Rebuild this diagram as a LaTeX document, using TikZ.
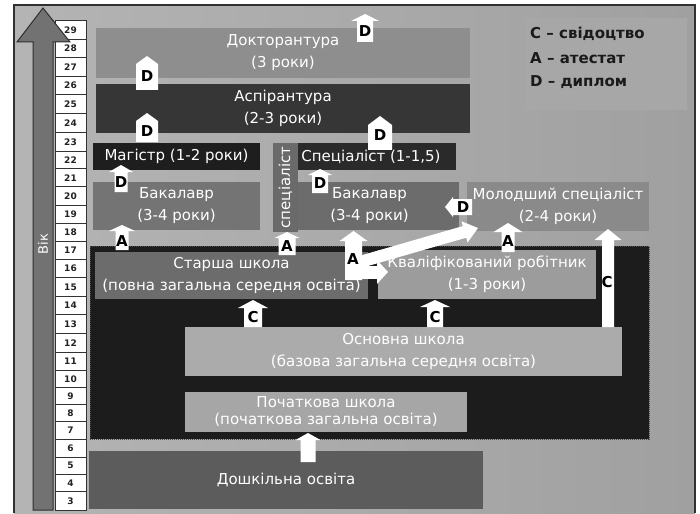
\documentclass[tikz,border=0pt]{standalone}
\usepackage{fontspec}
\setmainfont{DejaVu Sans}
\definecolor{bgA}{HTML}{B4B4B4}
\definecolor{bgB}{HTML}{A0A0A0}
\definecolor{framec}{HTML}{303030}
\definecolor{legbg}{HTML}{A7A7A7}
\definecolor{legtextc}{HTML}{1A1A1A}
\definecolor{cDokt}{HTML}{8E8E8E}
\definecolor{cAsp}{HTML}{363636}
\definecolor{cMag}{HTML}{1E1E1E}
\definecolor{cSpec}{HTML}{2A2A2A}
\definecolor{cSpecv}{HTML}{6A6A6A}
\definecolor{cBakA}{HTML}{747474}
\definecolor{cBakB}{HTML}{6C6C6C}
\definecolor{cMol}{HTML}{8A8A8A}
\definecolor{cBlack}{HTML}{1C1C1C}
\definecolor{cBlackEdge}{HTML}{4A4A4A}
\definecolor{cStar}{HTML}{6C6C6C}
\definecolor{cKval}{HTML}{9C9C9C}
\definecolor{cOsn}{HTML}{ABABAB}
\definecolor{cPoch}{HTML}{A6A6A6}
\definecolor{cDosh}{HTML}{5C5C5C}
\definecolor{agedraw}{HTML}{333333}
\definecolor{agetext}{HTML}{222222}
\definecolor{arrowc}{HTML}{727272}
\definecolor{arrowedge}{HTML}{2E2E2E}
% block arrow pointing up: x, ybottom, ytip, shaft half, head half, head length
\newcommand\blkup[6]{\fill[white] ({#1-#4},#2) -- ({#1-#4},{#3+#6}) -- ({#1-#5},{#3+#6}) -- (#1,#3) -- ({#1+#5},{#3+#6}) -- ({#1+#4},{#3+#6}) -- ({#1+#4},#2) -- cycle;}
\begin{document}
\begin{tikzpicture}[x=1pt,y=-1pt,
  lvl/.style={inner sep=0pt, outer sep=0pt, text=white, align=center, font=\fontsize{15}{22}\selectfont},
  letter/.style={inner sep=0pt, text=black, font=\bfseries\fontsize{15}{15}\selectfont},
  agebox/.style={draw=agedraw, line width=0.8pt, fill=white},
  agenum/.style={inner sep=0pt, font=\bfseries\fontsize{9}{9}\selectfont, text=agetext},
  legtext/.style={anchor=west, inner sep=0pt, font=\bfseries\fontsize{15}{15}\selectfont, text=legtextc}
]
\useasboundingbox (0,0) rectangle (700,513);
\fill[white] (0,0) rectangle (700,513);
\shade[left color=bgA, right color=bgB] (14,5) rectangle (695,513);
\draw[framec, line width=1.2pt] (14,513) -- (14,5) -- (695,5) -- (695,513);

% legend
\fill[legbg] (525,18) rectangle (687,110);
\node[legtext] (leg1) at (530,34) {C – свідоцтво};
\node[legtext] (leg2) at (530,58) {A – атестат};
\node[legtext] (leg3) at (530,82) {D – диплом};

% levels
\node[lvl, fill=cDokt, minimum width=374pt, minimum height=50pt] (dokt) at (283,53) {Докторантура\\(3 роки)};
\node[lvl, fill=cAsp, minimum width=374pt, minimum height=49pt] (asp) at (283,108.5) {Аспірантура\\(2-3 роки)};
\node[lvl, fill=cMag, minimum width=167pt, minimum height=27pt] (mag) at (176.5,156.5) {Магістр (1-2 роки)};
\node[lvl, fill=cSpec, minimum width=170pt, minimum height=27pt] (spec) at (371,156.5) {Спеціаліст (1-1,5)};
\node[lvl, fill=cBakA, minimum width=167pt, minimum height=48pt] (bak1) at (176.5,206) {Бакалавр\\(3-4 роки)};
\node[lvl, fill=cBakB, minimum width=179pt, minimum height=48pt] (bak2) at (369.5,206) {Бакалавр\\(3-4 роки)};
\node[lvl, fill=cSpecv, rotate=90, minimum width=89pt, minimum height=25pt] (specv) at (285.5,187.5) {спеціаліст};
\node[lvl, fill=cMol, minimum width=182pt, minimum height=49pt] (mol) at (558,206.5) {Молодший спеціаліст\\(2-4 роки)};

\node[fill=cBlack, draw=cBlackEdge, densely dotted, line width=1pt, minimum width=559pt, minimum height=193pt, inner sep=0pt] (school) at (369.5,342.5) {};
\node[lvl, fill=cStar, minimum width=273pt, minimum height=47pt] (star) at (231.5,275.5) {Старша школа\\(повна загальна середня освіта)};
\node[lvl, fill=cKval, minimum width=218pt, minimum height=49pt] (kval) at (487,274.5) {Кваліфікований робітник\\(1-3 роки)};
\node[lvl, fill=cOsn, minimum width=437pt, minimum height=49pt] (osn) at (403.5,351.5) {Основна школа\\(базова загальна середня освіта)};
\node[lvl, fill=cPoch, minimum width=282pt, minimum height=40pt, font=\fontsize{15}{17}\selectfont] (poch) at (326,412) {Початкова школа\\(початкова загальна освіта)};
\node[lvl, fill=cDosh, minimum width=394pt, minimum height=58pt] (dosh) at (286,480) {Дошкільна освіта};

% block arrows with letters
\blkup{365}{42}{14}{8}{14}{7}
\node[letter] (dTop) at (365,31) {D};
\blkup{147}{90}{56}{11}{11}{8}
\node[letter] (dAsp) at (147,76) {D};
\blkup{147}{142}{113}{11}{11}{8}
\node[letter] (dMag) at (147,131) {D};
\blkup{380}{150}{116}{12}{12}{9}
\node[letter] (dSpec) at (380,135) {D};
\blkup{121}{192}{165}{6.5}{12}{7}
\node[letter] (dBak1) at (121,182) {D};
\blkup{122}{250}{225}{6.5}{13}{6}
\node[letter] (aBak1) at (122,241) {A};
\blkup{287}{255}{232}{8.5}{12.5}{6}
\node[letter] (aSpecv) at (287,246) {A};
\blkup{320}{193}{169}{8}{12}{6}
\node[letter] (dBak2) at (320,183) {D};
\blkup{508}{252}{223}{6.5}{14.5}{9}
\node[letter] (aMol) at (508,241) {A};
\blkup{608}{327}{229}{6}{13.5}{11}
\node[letter] (cMol) at (607,282) {C};
\blkup{253}{327}{300}{9}{15}{8}
\node[letter] (cStar) at (253,317) {C};
\blkup{435}{327}{300}{8}{15}{7}
\node[letter] (cKval) at (435,317) {C};
\blkup{308}{462}{433}{7.5}{12.5}{7}

% left-pointing D arrow (Molodshyi -> Bakalavr)
\fill[white] (472,199) -- (453,199) -- (453,197) -- (445,207) -- (453,217) -- (453,215) -- (472,215) -- cycle;
\node[letter] (dMol) at (463,207) {D};

% compound A arrow (from Starsha)
\blkup{353.5}{280}{231}{8.5}{14}{10}
\fill[white] (353,266) rectangle (378,279);
\fill[white] (377,260) -- (388,272) -- (377,284) -- cycle;
\fill[white] (358.3,256.2) -- (462.8,226.1) -- (461.5,221.3) -- (478,228) -- (467.6,242.5) -- (466.2,237.7) -- (361.7,267.8) -- cycle;
\node[letter] (aStar) at (353,259) {A};

% age scale
\foreach \a/\t/\b in {29/20.5/39.25, 28/39.25/57.75, 27/57.75/76.25, 26/76.25/94.75, 25/94.75/113.5, 24/113.5/132.5, 23/132.5/151, 22/151/168.75, 21/168.75/186.75, 20/186.75/205, 19/205/223, 18/223/241, 17/241/259.25, 16/259.25/277.75, 15/277.75/296, 14/296/314.5, 13/314.5/333.5, 12/333.5/352.5, 11/352.5/370.5, 10/370.5/387.5, 9/387.5/404.25, 8/404.25/421.25, 7/421.25/439, 6/439/457, 5/457/474.5, 4/474.5/491.5, 3/491.5/510}{
  \draw[agebox] (55,\t) rectangle (86,\b);
  \node[agenum] (age\a) at (70.5,{(\t+\b)/2}) {\a};
}

% age arrow
\draw[fill=arrowc, draw=arrowedge, line width=1pt, line join=miter] (33,510) -- (33,42) -- (17,42) -- (43,8) -- (70,42) -- (53,42) -- (53,510) -- cycle;
\node[rotate=90, text=white, inner sep=0pt, font=\fontsize{13}{13}\selectfont] (vik) at (43,244) {Вік};
\end{tikzpicture}
\end{document}
